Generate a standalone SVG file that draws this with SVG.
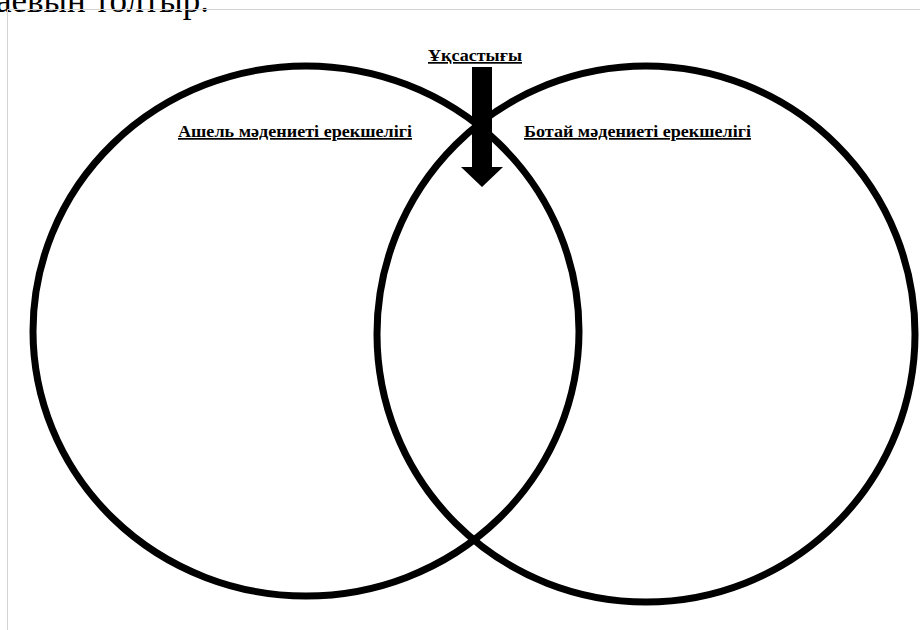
<svg xmlns="http://www.w3.org/2000/svg" width="920" height="630" viewBox="0 0 920 630">
<style>
.ring{fill:none;stroke:#000;stroke-width:7}
.lbl{font-family:"Liberation Serif","Times New Roman",serif;font-weight:bold;fill:#000;text-decoration:underline}
</style>
<rect x="0" y="0" width="920" height="630" fill="#fff"/>
<text x="-4" y="12" font-family="Liberation Serif, serif" font-size="35" fill="#000">аевын толтыр.</text>
<path d="M7.5 630 V9.5 H920" fill="none" stroke="#d4d4d4" stroke-width="1"/>
<g id="left-circle">
<ellipse class="ring" cx="306" cy="331" rx="273" ry="265"/>
<text class="lbl" x="178" y="137" font-size="17" textLength="234" lengthAdjust="spacingAndGlyphs">Ашель мәдениеті ерекшелігі</text>
</g>
<g id="right-circle">
<ellipse class="ring" cx="646" cy="334" rx="269" ry="268"/>
<text class="lbl" x="524" y="137" font-size="17" textLength="227" lengthAdjust="spacingAndGlyphs">Ботай мәдениеті ерекшелігі</text>
</g>
<g id="similarity">
<text class="lbl" x="428" y="61" font-size="17" textLength="94" lengthAdjust="spacingAndGlyphs">Ұқсастығы</text>
</g>
<g id="connectors">
<polygon points="472,67 492,67 492,167 503,167 482,187 461,167 472,167" fill="#000"/>
</g>
</svg>
